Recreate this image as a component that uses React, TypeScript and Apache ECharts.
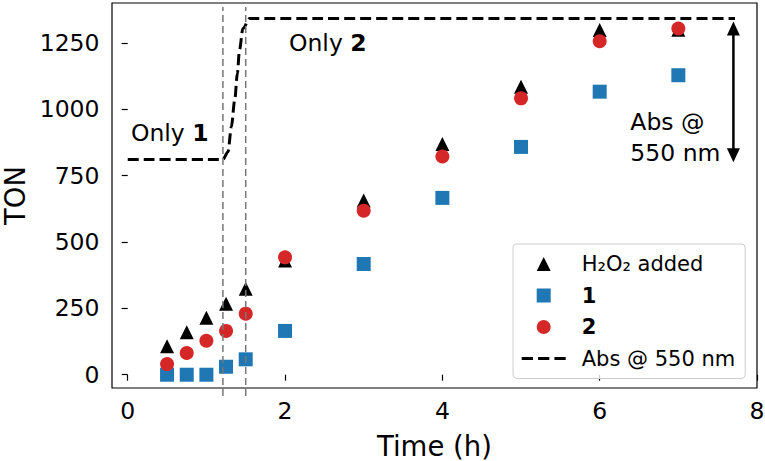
import React, { useEffect, useRef } from "react";
import * as echarts from "echarts";

// ---- data ----
const times = [0.5, 0.75, 1.0, 1.25, 1.5, 2, 3, 4, 5, 6, 7];
const h2o2Added = [107, 160, 215, 267, 324, 430, 656, 869, 1085, 1298, 1299];
const ton1 = [0, 0, 0, 30, 58, 165, 417, 666, 858, 1066, 1128];
const ton2 = [40, 82, 128, 165, 230, 442, 618, 822, 1041, 1256, 1304];

const absX = [0, 1.21, 1.275, 1.318, 1.36, 1.394, 1.42, 1.465, 1.55, 7.72];
const absY = [811, 811, 840, 934, 1034, 1135, 1222, 1304, 1342, 1342];

const vLines = [1.21, 1.5];
const arrowSpec = { x: 7.7, yTop: 1330, yBottom: 800 };

const xTicks = [0, 2, 4, 6, 8];
const yTicks = [0, 250, 500, 750, 1000, 1250];
const xRange = [-0.2, 8];
const yRange = [-50, 1400];

const annotations = [
  { x: 0.04, y: 909, text: "Only {b|1}" },
  { x: 2.05, y: 1248, text: "Only {b|2}" },
  { x: 6.39, y: 894, text: "Abs @\n550 nm" },
];

const FONT = "DejaVu Sans";

const ICON_TRI = "path://M0,-1L1,1L-1,1Z";
const ICON_SQ = "path://M0,0L1,0L1,1L0,1Z";
const ICON_CIRCLE = "path://M1,0A1,1,0,1,1,-1,0A1,1,0,1,1,1,0Z";
const ICON_DASH = "path://M0,0L11,0L11,3L0,3Z M16,0L27,0L27,3L16,3Z M32,0L43,0L43,3L32,3Z";

export default function App() {
  const ref = useRef<HTMLDivElement>(null);

  useEffect(() => {
    if (!ref.current) return;
    const chart = echarts.init(ref.current, undefined, { renderer: "svg" });

    const option: any = {
      animation: false,
      backgroundColor: "#ffffff",
      textStyle: { fontFamily: FONT },
      grid: {
        left: 112,
        right: 8,
        top: 3,
        bottom: 73,
        containLabel: false,
        outerBoundsMode: "none",
        show: true,
        borderColor: "#000",
        borderWidth: 1.2,
        backgroundColor: "transparent",
      },
      xAxis: {
        type: "value",
        min: xRange[0],
        max: xRange[1],
        name: "Time (h)",
        nameLocation: "middle",
        nameGap: 44,
        nameTextStyle: { fontSize: 27.5, color: "#000", fontFamily: FONT },
        axisLine: { show: false },
        splitLine: { show: false },
        axisTick: {
          show: true,
          length: 6,
          lineStyle: { color: "#000", width: 1.2 },
          customValues: xTicks,
        },
        axisLabel: {
          fontSize: 23.5,
          color: "#000",
          margin: 11,
          fontFamily: FONT,
          customValues: xTicks,
          formatter: (v: number) => String(v),
        },
      },
      yAxis: {
        type: "value",
        min: yRange[0],
        max: yRange[1],
        name: "TON",
        nameLocation: "middle",
        nameGap: 83,
        nameTextStyle: { fontSize: 27.5, color: "#000", fontFamily: FONT },
        axisLine: { show: false },
        splitLine: { show: false },
        axisTick: {
          show: true,
          length: 6,
          lineStyle: { color: "#000", width: 1.2 },
          customValues: yTicks,
        },
        axisLabel: {
          fontSize: 23.5,
          color: "#000",
          margin: 12.5,
          fontFamily: FONT,
          customValues: yTicks,
          formatter: (v: number) => String(v),
        },
      },
      legend: {
        orient: "vertical",
        left: 513,
        top: 244,
        padding: [9.5, 10, 9.5, 8.7],
        itemGap: 10.5,
        itemWidth: 44,
        itemHeight: 14,
        symbolKeepAspect: true,
        backgroundColor: "rgba(255,255,255,0.8)",
        borderColor: "#cccccc",
        borderWidth: 1,
        borderRadius: 4,
        selectedMode: false,
        data: [
          { name: "H₂O₂ added", icon: ICON_TRI },
          { name: "1", icon: ICON_SQ },
          { name: "2", icon: ICON_CIRCLE },
          { name: "Abs @ 550 nm", icon: ICON_DASH },
        ],
        formatter: (name: string) =>
          name === "1" || name === "2" ? `{b|${name}}` : `{n|${name}}`,
        textStyle: {
          fontSize: 21,
          lineHeight: 21,
          color: "#000",
          fontFamily: FONT,
          rich: {
            n: { fontSize: 21, fontFamily: FONT, color: "#000", padding: [0, 0, 0, 11] },
            b: { fontSize: 21, fontFamily: FONT, color: "#000", fontWeight: "bold", padding: [0, 0, 0, 11] },
          },
        },
      },
      series: [
        {
          name: "H₂O₂ added",
          type: "scatter",
          symbol: "triangle",
          symbolSize: 14,
          itemStyle: { color: "#000000", opacity: 1 },
          data: times.map((t, i) => [t, h2o2Added[i]]),
          z: 3,
        },
        {
          name: "1",
          type: "scatter",
          symbol: "rect",
          symbolSize: 14,
          itemStyle: { color: "#1f77b4", opacity: 1 },
          data: times.map((t, i) => [t, ton1[i]]),
          z: 4,
        },
        {
          name: "2",
          type: "scatter",
          symbol: "circle",
          symbolSize: 14,
          itemStyle: { color: "#d62728", opacity: 1 },
          data: times.map((t, i) => [t, ton2[i]]),
          z: 5,
        },
        {
          name: "Abs @ 550 nm",
          type: "line",
          symbol: "none",
          showSymbol: false,
          smooth: 0.3,
          smoothMonotone: "x",
          lineStyle: { color: "#000", width: 3, type: [11, 5] },
          itemStyle: { color: "#000" },
          data: absX.map((x, i) => [x, absY[i]]),
          z: 6,
        },
        {
          name: "vlines",
          type: "custom",
          clip: false,
          silent: true,
          z: 7,
          data: vLines.map((x) => [x]),
          renderItem: (params: any, api: any) => {
            const x = api.value(0);
            const p1 = api.coord([x, yRange[0]]);
            const p2 = api.coord([x, yRange[1]]);
            return {
              type: "line",
              shape: { x1: p1[0], y1: p1[1] + 8, x2: p2[0], y2: p2[1] + 4 },
              style: { stroke: "#777777", lineWidth: 1.5, lineDash: [7, 4] },
            };
          },
        },
        {
          name: "arrow",
          type: "custom",
          clip: false,
          silent: true,
          z: 8,
          data: [[arrowSpec.x, arrowSpec.yTop, arrowSpec.yBottom]],
          renderItem: (params: any, api: any) => {
            const top = api.coord([api.value(0), api.value(1)]);
            const bot = api.coord([api.value(0), api.value(2)]);
            const hl = 14;
            const hw = 6.5;
            return {
              type: "group",
              children: [
                {
                  type: "line",
                  shape: { x1: top[0], y1: top[1] + hl - 2, x2: bot[0], y2: bot[1] - hl + 2 },
                  style: { stroke: "#000", lineWidth: 2.5 },
                },
                {
                  type: "polygon",
                  shape: {
                    points: [
                      [top[0], top[1]],
                      [top[0] - hw, top[1] + hl],
                      [top[0] + hw, top[1] + hl],
                    ],
                  },
                  style: { fill: "#000" },
                },
                {
                  type: "polygon",
                  shape: {
                    points: [
                      [bot[0], bot[1]],
                      [bot[0] - hw, bot[1] - hl],
                      [bot[0] + hw, bot[1] - hl],
                    ],
                  },
                  style: { fill: "#000" },
                },
              ],
            };
          },
        },
        {
          name: "annotations",
          type: "custom",
          clip: false,
          silent: true,
          z: 9,
          data: annotations.map((a) => [a.x, a.y]),
          renderItem: (params: any, api: any) => {
            const p = api.coord([api.value(0), api.value(1)]);
            const a = annotations[params.dataIndex];
            return {
              type: "text",
              x: p[0],
              y: p[1],
              style: {
                text: a.text,
                fontSize: 23.5,
                fontFamily: FONT,
                fill: "#000",
                align: "left",
                verticalAlign: "middle",
                lineHeight: 31,
                rich: {
                  b: { fontSize: 23.5, fontFamily: FONT, fontWeight: "bold", fill: "#000" },
                },
              },
            };
          },
        },
      ],
    };

    chart.setOption(option);
    return () => chart.dispose();
  }, []);

  return <div ref={ref} style={{ width: 765, height: 461, position: "absolute", left: 0, top: 0 }} />;
}
